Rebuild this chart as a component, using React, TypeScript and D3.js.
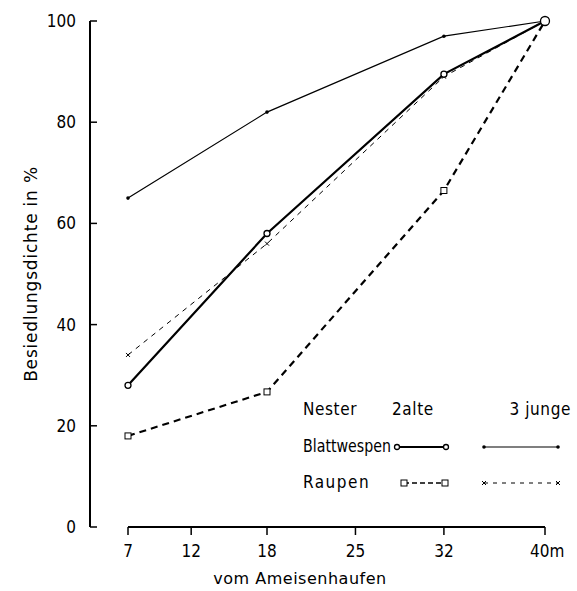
import React from 'react';
import * as d3 from 'd3';

// distance from the ant hill (m)
const distances = [7, 18, 32, 40];
const xTicks = [7, 12, 18, 25, 32, 40];
const yTicks = [0, 20, 40, 60, 80, 100];

// Besiedlungsdichte in %
const blattAlte = [28, 58, 89.5, 100];
const blattJunge = [65, 82, 97, 100];
const raupenAlte = [18, 26.7, 66.5, 100];
const raupenJunge = [34, 56, 89, 100];

const W = 577;
const H = 591;
const FONT = '"DejaVu Sans Condensed", "DejaVu Sans", sans-serif';
const WIDE = '"DejaVu Sans", sans-serif';

const x = d3.scaleLinear().domain([7, 40]).range([128, 545]);
const y = d3.scaleLinear().domain([0, 100]).range([527, 21]);

const line = d3
    .line<number>()
    .x((d, i) => x(distances[i]))
    .y(d => y(d));

const Circle = ({ cx, cy, r = 3 }) => (
    <circle cx={cx} cy={cy} r={r} fill="white" stroke="black" strokeWidth={1.3} />
);
const Dot = ({ cx, cy }) => <circle cx={cx} cy={cy} r={1.8} fill="black" />;
const Square = ({ cx, cy }) => (
    <rect x={cx - 3} y={cy - 3} width={6} height={6} fill="white" stroke="black" strokeWidth={1} />
);
const Cross = ({ cx, cy }) => (
    <path d={`M${cx - 2},${cy - 2}L${cx + 2},${cy + 2}M${cx - 2},${cy + 2}L${cx + 2},${cy - 2}`} stroke="black" strokeWidth={1} />
);

const App = () => {
    const last = distances.length - 1;
    return (
        <svg width={W} height={H} style={{ position: 'absolute', left: 0, top: 0, background: 'white' }} fontFamily={FONT}>
            {/* y axis */}
            <line x1={90} x2={90} y1={y(100)} y2={y(0)} stroke="black" strokeWidth={2} />
            {yTicks.map(t => (
                <g key={t}>
                    <line x1={90} x2={97} y1={y(t)} y2={y(t)} stroke="black" strokeWidth={1.5} />
                    <text x={76} y={y(t)} textAnchor="end" dominantBaseline="central" fontSize={17}>
                        {t}
                    </text>
                </g>
            ))}
            <text
                transform={`translate(31,${(y(0) + y(100)) / 2}) rotate(-90)`}
                textAnchor="middle"
                dominantBaseline="central"
                fontSize={17}
                fontFamily={WIDE}
                letterSpacing={0.8}
            >
                Besiedlungsdichte  in  %
            </text>

            {/* x axis */}
            <line x1={x(7)} x2={x(40)} y1={527} y2={527} stroke="black" strokeWidth={2} />
            {xTicks.map(t => (
                <g key={t}>
                    <line x1={x(t)} x2={x(t)} y1={527} y2={535} stroke="black" strokeWidth={1.5} />
                    <text
                        x={t === 40 ? x(t) - 15 : x(t)}
                        y={551}
                        textAnchor={t === 40 ? 'start' : 'middle'}
                        dominantBaseline="central"
                        fontSize={17}
                    >
                        {t === 40 ? '40m' : t}
                    </text>
                </g>
            ))}
            <text x={300} y={578} textAnchor="middle" dominantBaseline="central" fontSize={16}
                fontFamily={WIDE} letterSpacing={0.5}>
                vom Ameisenhaufen
            </text>

            {/* lines */}
            <path d={line(blattJunge)} fill="none" stroke="black" strokeWidth={1.2} />
            <path d={line(blattAlte)} fill="none" stroke="black" strokeWidth={2.2} />
            <path d={line(raupenAlte)} fill="none" stroke="black" strokeWidth={2.2} strokeDasharray="7,5" />
            <path d={line(raupenJunge)} fill="none" stroke="black" strokeWidth={1} strokeDasharray="5,5" />

            {/* markers */}
            {blattJunge.slice(0, last).map((v, i) => <Dot key={'bj' + i} cx={x(distances[i])} cy={y(v)} />)}
            {raupenJunge.slice(0, last).map((v, i) => <Cross key={'rj' + i} cx={x(distances[i])} cy={y(v)} />)}
            {raupenAlte.slice(0, last).map((v, i) => <Square key={'ra' + i} cx={x(distances[i])} cy={y(v)} />)}
            {blattAlte.slice(0, last).map((v, i) => <Circle key={'ba' + i} cx={x(distances[i])} cy={y(v)} />)}
            <Circle cx={x(distances[last])} cy={y(blattAlte[last])} r={4.5} />

            {/* legend */}
            <g fontSize={17} letterSpacing={0.6}>
                <text x={303} y={409} dominantBaseline="central">Nester</text>
                <text x={392} y={409} dominantBaseline="central">2alte</text>
                <text x={571} y={409} textAnchor="end" dominantBaseline="central">3 junge</text>
                <text x={303} y={446} dominantBaseline="central" letterSpacing={0}
                    textLength={88} lengthAdjust="spacingAndGlyphs">Blattwespen</text>
                <text x={303} y={482} dominantBaseline="central" letterSpacing={1.5}>Raupen</text>
            </g>
            <line x1={397} x2={446} y1={447} y2={447} stroke="black" strokeWidth={2.2} />
            <Circle cx={397} cy={447} r={2.5} />
            <Circle cx={446} cy={447} r={2.5} />
            <line x1={484} x2={558} y1={447} y2={447} stroke="black" strokeWidth={1.2} />
            <Dot cx={484} cy={447} />
            <Dot cx={558} cy={447} />
            <line x1={404} x2={445} y1={483} y2={483} stroke="black" strokeWidth={1.5} strokeDasharray="5,3" />
            <Square cx={404} cy={483} />
            <Square cx={445} cy={483} />
            <line x1={484} x2={558} y1={483} y2={483} stroke="black" strokeWidth={1} strokeDasharray="4,5" />
            <Cross cx={484} cy={483} />
            <Cross cx={558} cy={483} />
        </svg>
    );
};

export default App;
